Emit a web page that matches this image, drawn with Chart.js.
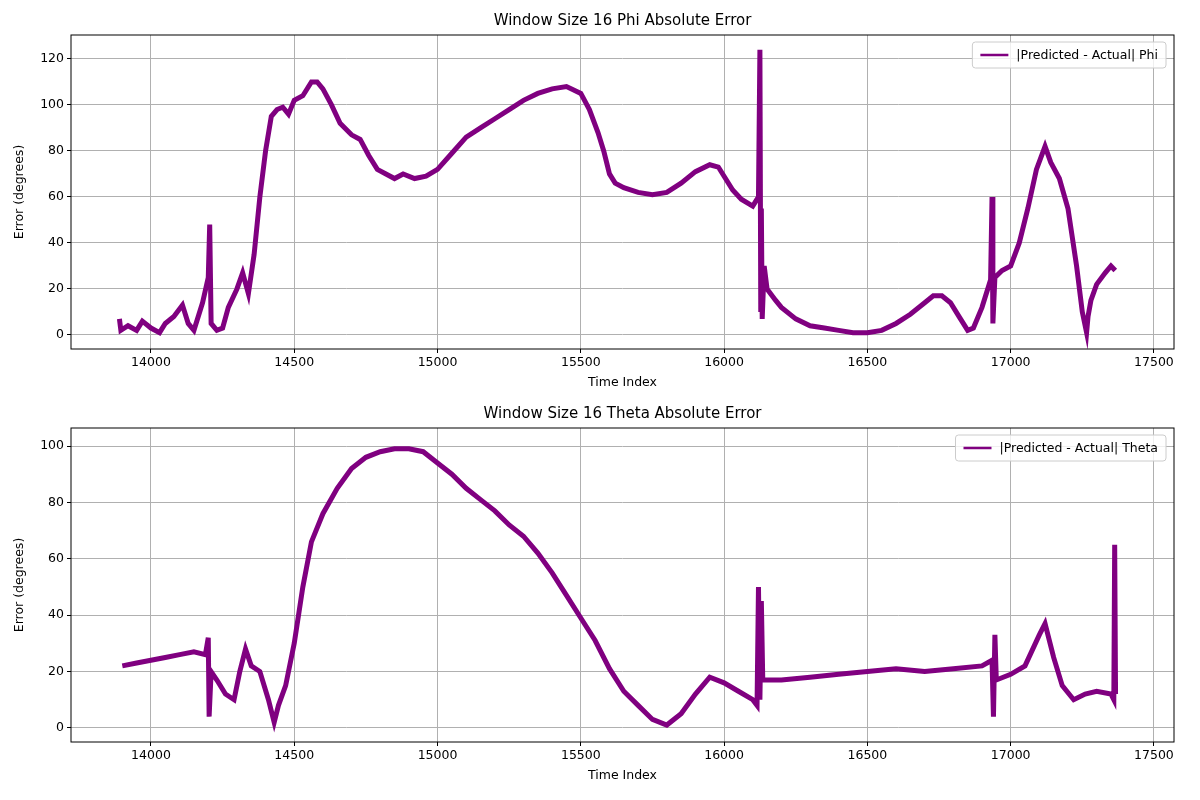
<!DOCTYPE html>
<html>
<head>
<meta charset="utf-8">
<script src="https://cdn.jsdelivr.net/npm/chart.js@4"></script>
<style>
  body { margin: 0; background: #fff; }
  .box { width: 1200px; height: 400px; position: relative; }
</style>
</head>
<body>
<div class="box"><canvas id="phiChart"></canvas></div>
<div class="box"><canvas id="thetaChart"></canvas></div>
<script>
const phiX = [13890,13895,13920,13950,13970,14000,14030,14050,14080,14110,14130,14150,14180,14200,14205,14210,14230,14250,14270,14300,14320,14340,14360,14380,14400,14420,14440,14460,14480,14500,14530,14560,14580,14600,14630,14660,14700,14730,14760,14790,14820,14850,14880,14920,14960,15000,15050,15100,15150,15200,15250,15300,15350,15400,15450,15500,15530,15560,15580,15600,15620,15650,15700,15750,15800,15850,15900,15950,15980,16000,16030,16060,16100,16120,16125,16128,16130,16133,16140,16150,16180,16200,16250,16300,16350,16400,16450,16500,16550,16600,16650,16700,16730,16760,16790,16820,16850,16870,16900,16930,16935,16938,16945,16970,17000,17030,17060,17090,17120,17140,17170,17200,17230,17250,17265,17270,17280,17300,17330,17350,17365];
const phiY = [7,2,4,2,6,3,1,5,8,13,5,2,14,25,48,5,2,3,12,20,27,18,35,60,80,95,98,99,96,102,104,110,110,107,100,92,87,85,78,72,70,68,70,68,69,72,79,86,90,94,98,102,105,107,108,105,98,88,80,70,66,64,62,61,62,66,71,74,73,69,63,59,56,60,124,10,55,7,30,20,15,12,7,4,3,2,1,1,2,5,9,14,17,17,14,8,2,3,12,24,60,5,25,28,30,40,55,72,82,75,68,55,30,10,1,8,15,22,27,30,28];
const thetaX = [13900,13950,14000,14050,14100,14150,14190,14200,14203,14210,14230,14260,14290,14310,14330,14350,14380,14410,14430,14445,14470,14500,14530,14560,14600,14650,14700,14750,14800,14850,14900,14950,15000,15050,15100,15150,15200,15250,15300,15350,15400,15450,15500,15550,15600,15650,15700,15750,15800,15850,15900,15950,16000,16050,16100,16115,16120,16125,16130,16135,16200,16300,16400,16500,16600,16700,16800,16900,16935,16940,16945,16950,17000,17050,17100,17120,17150,17180,17220,17260,17300,17350,17360,17363,17366];
const thetaY = [22,23,24,25,26,27,26,32,4,20,17,12,10,20,28,22,20,10,2,8,15,30,50,66,76,85,92,96,98,99,99,98,94,90,85,81,77,72,68,62,55,47,39,31,21,13,8,3,1,5,12,18,16,13,10,8,50,10,45,17,17,18,19,20,21,20,21,22,24,4,33,17,19,22,33,37,25,15,10,12,13,12,10,65,12];
const xTicks = [14000,14500,15000,15500,16000,16500,17000,17500];
const phiTicks = [0,20,40,60,80,100,120];
const thetaTicks = [0,20,40,60,80,100];

const FONT = 'DejaVu Sans';
const PURPLE = '#800080';

const frame = {
  id: 'frame',
  afterDraw(chart, args, opts) {
    const { ctx, chartArea: a } = chart;
    ctx.save();
    ctx.strokeStyle = '#000';
    ctx.lineWidth = 1;
    ctx.strokeRect(a.left, a.top, a.right - a.left, a.bottom - a.top);
    // title
    ctx.fillStyle = '#000';
    ctx.font = '15px ' + FONT;
    ctx.textAlign = 'center';
    ctx.textBaseline = 'bottom';
    ctx.fillText(opts.title, (a.left + a.right) / 2, a.top - 6);
    // legend
    ctx.font = '12.5px ' + FONT;
    const tw = ctx.measureText(opts.label).width;
    const w = tw + 52, h = 26;
    const x = a.right - 8 - w, y = a.top + 7;
    ctx.fillStyle = 'rgba(255,255,255,0.8)';
    ctx.strokeStyle = '#ccc';
    ctx.beginPath();
    ctx.roundRect(x, y, w, h, 3);
    ctx.fill();
    ctx.stroke();
    ctx.strokeStyle = PURPLE;
    ctx.lineWidth = 2.5;
    ctx.beginPath();
    ctx.moveTo(x + 8, y + h / 2);
    ctx.lineTo(x + 36, y + h / 2);
    ctx.stroke();
    ctx.fillStyle = '#000';
    ctx.textAlign = 'left';
    ctx.textBaseline = 'middle';
    ctx.fillText(opts.label, x + 44, y + h / 2 + 1);
    ctx.restore();
  }
};

function makeChart(id, xs, ys, yMin, yMax, yTicks, title, label, padTop, padBottom) {
  const pts = xs.map((x, i) => ({ x: x, y: ys[i] }));
  return new Chart(document.getElementById(id), {
    type: 'line',
    data: { datasets: [{ data: pts, borderColor: PURPLE, borderWidth: 5, pointRadius: 0, tension: 0 }] },
    plugins: [frame],
    options: {
      animation: false,
      responsive: true,
      maintainAspectRatio: false,
      layout: { padding: { top: padTop, right: 26, left: 8, bottom: padBottom } },
      plugins: {
        legend: { display: false },
        tooltip: { enabled: false },
        frame: { title: title, label: label }
      },
      scales: {
        x: {
          type: 'linear', min: 13721, max: 17570,
          afterBuildTicks: s => { s.ticks = xTicks.map(v => ({ value: v })); },
          afterFit: s => { s.height = 41; },
          grid: { color: '#b0b0b0', drawTicks: true, tickLength: 4, tickColor: '#000' },
          border: { display: false },
          ticks: { color: '#000', font: { family: FONT, size: 12.5 }, maxRotation: 0, padding: 2, callback: v => String(v) },
          title: { display: true, text: 'Time Index', color: '#000', font: { family: FONT, size: 12.5 }, padding: { top: 2, bottom: 0 } }
        },
        y: {
          min: yMin, max: yMax,
          afterBuildTicks: s => { s.ticks = yTicks.map(v => ({ value: v })); },
          afterFit: s => { s.width = 63; },
          grid: { color: '#b0b0b0', drawTicks: true, tickLength: 4, tickColor: '#000' },
          border: { display: false },
          ticks: { color: '#000', font: { family: FONT, size: 12.5 }, padding: 3, callback: v => String(v) },
          title: { display: true, text: 'Error (degrees)', color: '#000', font: { family: FONT, size: 12.5 }, padding: { bottom: 2 } }
        }
      }
    }
  });
}

makeChart('phiChart', phiX, phiY, -6.1, 130.4, phiTicks, 'Window Size 16 Phi Absolute Error', '|Predicted - Actual| Phi', 35, 10);
makeChart('thetaChart', thetaX, thetaY, -5, 106.4, thetaTicks, 'Window Size 16 Theta Absolute Error', '|Predicted - Actual| Theta', 28, 17);
</script>
</body>
</html>
